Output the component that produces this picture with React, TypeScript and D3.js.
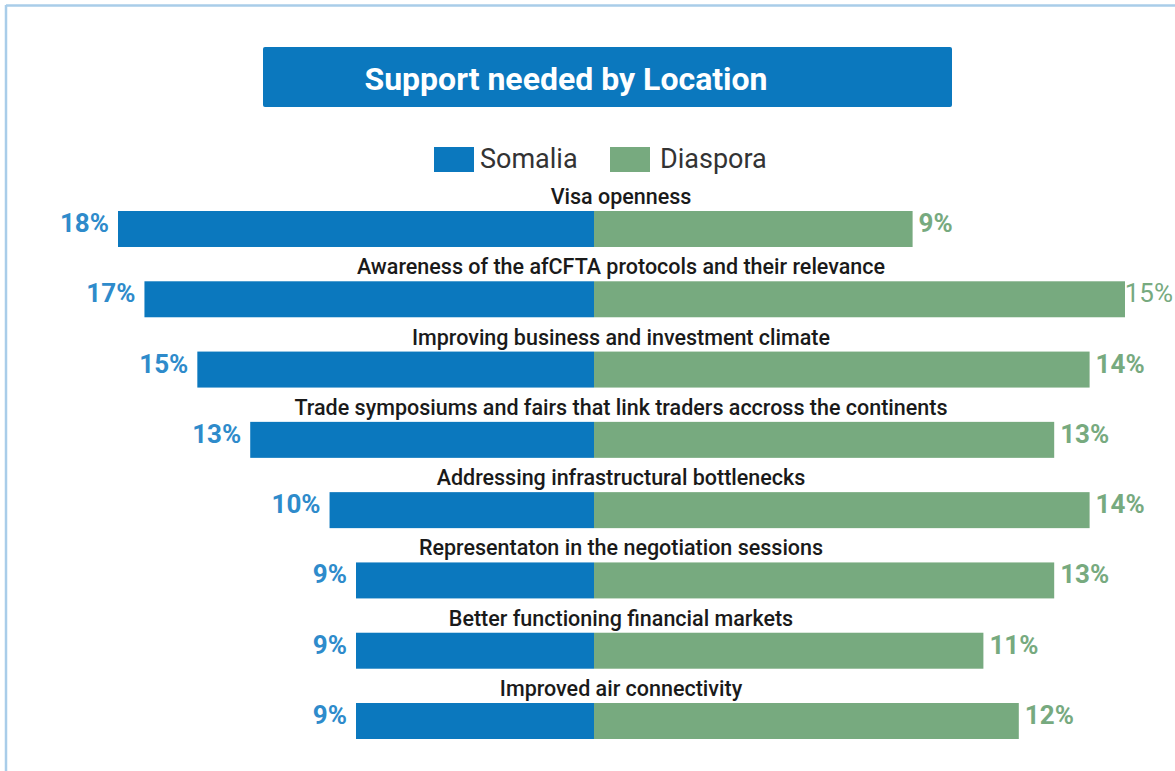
import React from "react";
import * as d3 from "d3";

const categories = [
  "Visa openness",
  "Awareness of the afCFTA protocols and their relevance",
  "Improving business and investment climate",
  "Trade symposiums and fairs that link traders accross the continents",
  "Addressing infrastructural bottlenecks",
  "Representaton in the negotiation sessions",
  "Better functioning financial markets",
  "Improved air connectivity",
];
const somalia = [18, 17, 15, 13, 10, 9, 9, 9];
const diaspora = [9, 15, 14, 13, 14, 13, 11, 12];
const seriesNames = ["Somalia", "Diaspora"];
const title = "Support needed by Location";

const W = 1175;
const H = 771;
const BLUE = "#0b78be";
const GREEN = "#77aa7f";
const BLUE_TXT = "#2e8bcb";
const GREEN_TXT = "#77aa7f";
const CENTER = 594;
const VAL_FS = 26;

export default function App() {
  const xLeft = d3.scaleLinear().domain([0, 18]).range([CENTER, 118]);
  const xRight = d3.scaleLinear().domain([0, 15]).range([CENTER, 1125]);
  const y = d3
    .scaleBand<string>()
    .domain(categories)
    .range([211, 739])
    .paddingInner(0.488)
    .paddingOuter(0);
  const bw = y.bandwidth();
  const font = "Roboto, 'Noto Sans', sans-serif";

  return (
    <svg
      width={W}
      height={H}
      style={{ position: "absolute", left: 0, top: 0, background: "#fff" }}
      fontFamily={font}
    >
      <rect x={0} y={0} width={W} height={H} fill="#fff" />
      {/* frame */}
      <line x1={6} y1={5.5} x2={W} y2={5.5} stroke="#a9cde9" strokeWidth={2.5} />
      <line x1={6} y1={5} x2={6} y2={H} stroke="#a9cde9" strokeWidth={2.5} />

      {/* title */}
      <rect x={263} y={47} width={689} height={60} rx={2} fill={BLUE} />
      <text
        x={566}
        y={79}
        fill="#fff"
        fontSize={32}
        fontWeight={700}
        textAnchor="middle"
        dominantBaseline="central"
      >
        {title}
      </text>

      {/* legend */}
      <rect x={434} y={147} width={40} height={25} fill={BLUE} />
      <text x={480} y={168} fontSize={27} fill="#333">
        {seriesNames[0]}
      </text>
      <rect x={610} y={147} width={40} height={25} fill={GREEN} />
      <text x={660} y={168} fontSize={27} fill="#333">
        {seriesNames[1]}
      </text>

      {categories.map((c, i) => {
        const top = y(c)!;
        const xl = xLeft(somalia[i]);
        const xr = xRight(diaspora[i]);
        const label = `${diaspora[i]}%`;
        const estW = label.length * VAL_FS * 0.6;
        const fits = xr + 6 + estW <= W - 2;
        return (
          <g key={c}>
            <rect x={xl} y={top} width={CENTER - xl} height={bw} fill={BLUE} />
            <rect x={CENTER} y={top} width={xr - CENTER} height={bw} fill={GREEN} />
            <text
              x={621}
              y={top - 7}
              textAnchor="middle"
              fontSize={21.5}
              fontWeight={500}
              fill="#1a1a1a"
            >
              {c}
            </text>
            <text
              x={xl - 9}
              y={top + 21}
              textAnchor="end"
              fontSize={VAL_FS}
              fontWeight={700}
              fill={BLUE_TXT}
            >
              {somalia[i]}%
            </text>
            <text
              x={fits ? xr + 6 : W - 2}
              y={top + 21}
              textAnchor={fits ? "start" : "end"}
              fontSize={VAL_FS}
              fontWeight={fits ? 700 : 400}
              fill={GREEN_TXT}
            >
              {label}
            </text>
          </g>
        );
      })}
    </svg>
  );
}
